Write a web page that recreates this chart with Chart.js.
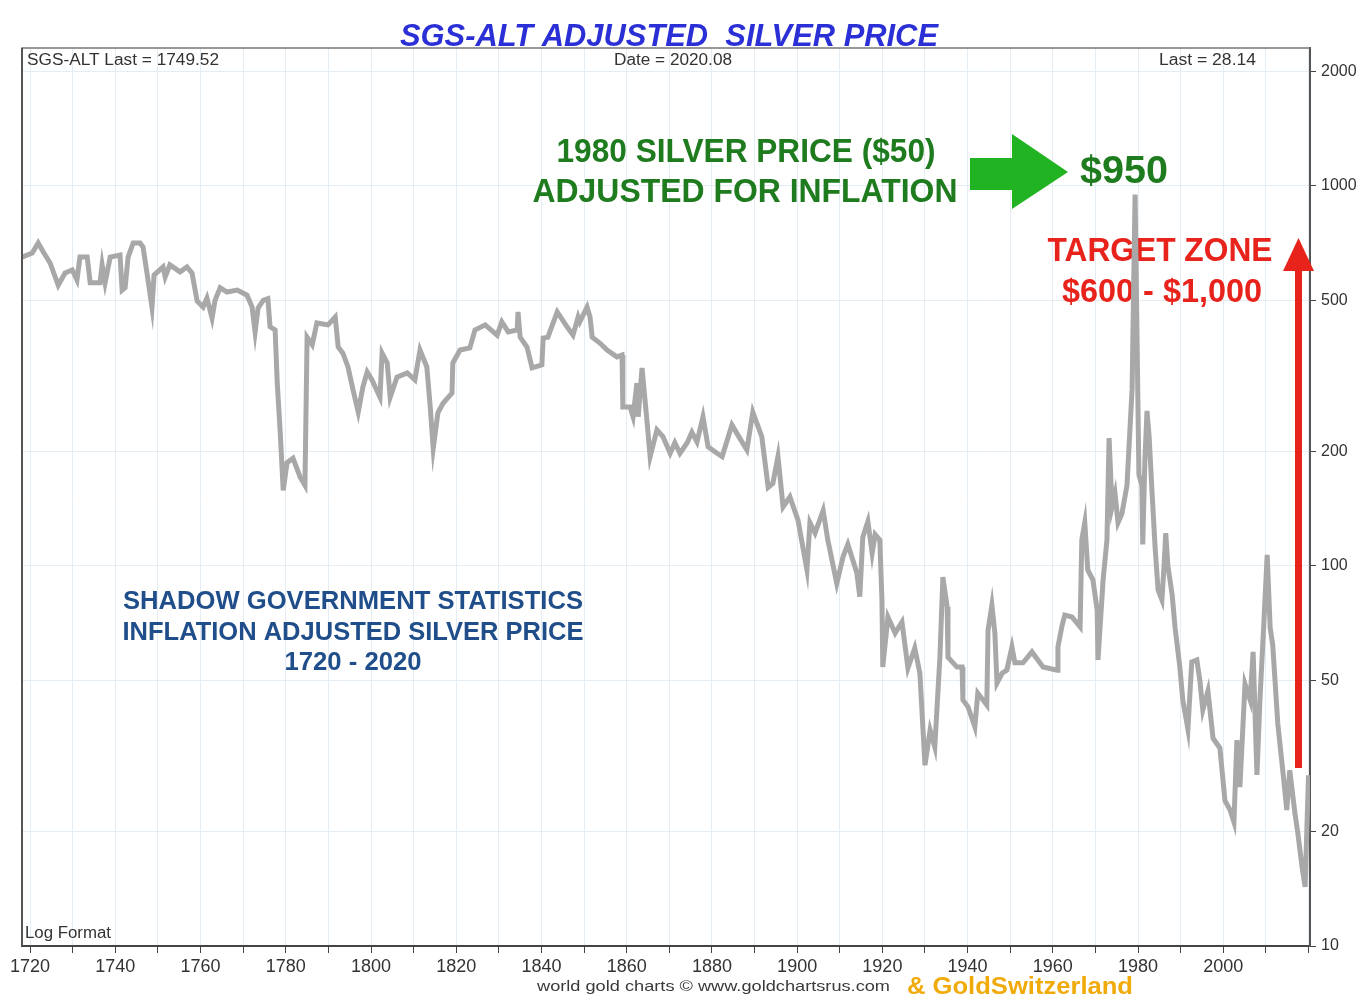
<!DOCTYPE html>
<html>
<head>
<meta charset="utf-8">
<script src="https://cdn.jsdelivr.net/npm/chart.js@4.4.1/dist/chart.umd.min.js"></script>
<style>
  html, body { margin: 0; padding: 0; background: #fff; }
  canvas { display: block; }
</style>
</head>
<body>
<canvas id="silverChart" width="1363" height="998"></canvas>
<script>
// inflation adjusted silver price (SGS-ALT)
const years = [
  1718.1,1720.5,1721.9,1723.1,1724.7,1726.6,1728.2,1729.9,1731.0,1731.7,
  1733.4,1734.1,1736.4,1736.9,1737.6,1738.8,1741.1,1741.6,1742.3,1743.0,
  1744.2,1745.8,1746.5,1747.5,1748.6,1749.1,1751.2,1751.7,1752.8,1755.2,
  1756.8,1758.0,1759.2,1760.6,1761.5,1762.7,1763.4,1764.6,1766.2,1768.6,
  1770.9,1772.1,1772.8,1773.5,1774.7,1775.8,1776.3,1777.5,1778.0,1778.7,
  1779.4,1780.3,1781.7,1783.4,1784.5,1785.0,1786.2,1787.3,1789.9,1791.6,
  1792.3,1793.4,1794.6,1795.8,1797.0,1798.1,1799.1,1800.2,1802.1,1802.6,
  1803.8,1804.5,1806.1,1808.5,1810.3,1811.5,1813.1,1813.9,1814.6,1815.7,
  1816.9,1819.0,1819.2,1820.9,1823.2,1824.4,1826.8,1829.6,1830.7,1832.2,
  1834.3,1834.5,1835.0,1836.6,1837.8,1840.1,1840.4,1841.5,1843.7,1846.0,
  1847.4,1848.6,1849.0,1850.7,1851.4,1851.9,1853.7,1855.4,1857.7,1858.9,
  1859.1,1860.8,1861.5,1862.4,1862.7,1863.6,1864.8,1865.5,1867.1,1868.5,
  1870.2,1871.3,1872.5,1874.2,1875.3,1876.5,1877.9,1879.1,1881.2,1882.4,
  1884.7,1886.1,1888.2,1889.6,1891.7,1893.2,1894.3,1895.5,1896.7,1898.3,
  1900.2,1902.3,1903.0,1904.2,1906.1,1907.2,1909.3,1910.8,1911.9,1914.0,
  1914.7,1915.4,1916.6,1917.6,1918.3,1919.4,1919.9,1920.1,1921.3,1923.0,
  1924.6,1926.0,1927.6,1928.8,1929.5,1930.0,1931.2,1932.3,1933.5,1934.2,
  1935.2,1935.4,1937.5,1938.7,1938.9,1940.1,1941.7,1942.4,1944.5,1944.8,
  1945.7,1946.4,1946.9,1948.1,1949.2,1950.4,1951.1,1953.0,1955.1,1957.7,
  1961.0,1961.2,1962.1,1962.8,1964.5,1966.4,1966.8,1967.5,1968.2,1969.4,
  1970.4,1970.6,1971.8,1972.7,1973.2,1973.9,1974.6,1975.3,1976.2,1977.4,
  1978.6,1979.3,1979.7,1980.2,1980.9,1981.1,1981.6,1982.1,1982.6,1983.3,
  1984.0,1984.7,1985.6,1986.1,1986.5,1987.0,1988.0,1988.7,1989.8,1990.5,
  1991.7,1992.6,1993.8,1994.5,1995.2,1996.4,1997.6,1999.2,2000.4,2001.6,
  2002.5,2003.2,2003.9,2005.1,2006.3,2007.0,2007.9,2008.6,2009.5,2010.3,
  2011.0,2011.6,2012.8,2014.0,2014.9,2015.6,2016.8,2017.5,2018.5,2019.2,2020.0
];
const prices = [
  650,666,708,670,627,548,590,601,566,650,
  650,556,556,620,556,650,658,532,540,650,
  708,708,691,583,480,583,612,576,620,594,
  612,590,498,480,507,449,500,540,526,532,
  516,480,413,477,500,505,426,418,303,224,
  158,187,192,171,163,400,382,436,431,452,
  377,363,334,290,254,296,324,309,278,363,
  342,278,314,322,309,370,334,262,204,253,
  268,285,342,370,375,418,431,405,439,413,
  418,466,400,377,332,338,398,400,466,426,
  405,452,439,480,452,400,386,370,355,359,
  262,262,247,303,247,332,238,194,228,219,
  198,211,198,211,225,212,247,206,198,194,
  235,221,202,254,219,161,165,194,143,152,
  132,97.6,130,122,140,117,90,106,114,96,
  83,119,131,108,121,117,81.4,54.2,73.4,66.6,
  71.2,53.9,60.8,52.2,37.7,29.9,37,33.4,57.5,93.5,
  78,57.5,54.2,54.2,44.4,42.6,37.7,46.3,43.1,67.8,
  78.9,66.6,49.2,52.2,53.2,61.2,55.6,55.6,59.4,54.2,
  53.2,61.2,69.1,74.3,73.4,69.1,117,130,97.6,92,
  76.6,56.6,92,117,217,143,155,130,137,163,
  292,950,452,174,163,114,189,256,219,155,
  112,86.5,81.4,100,122,100,84,68.7,54.2,44.4,
  37.2,55.9,56.6,50,41.8,46.9,35.2,33.2,24.1,22.8,
  21.2,34.8,26.2,48.9,44.4,59.4,28.2,44.4,70,107,
  68.7,62,38.4,28.7,22.8,29,22.4,19.8,16.1,14.3,28.14
];
const xTickYears = [1720,1730,1740,1750,1760,1770,1780,1790,1800,1810,1820,1830,1840,1850,1860,1870,1880,1890,1900,1910,1920,1930,1940,1950,1960,1970,1980,1990,2000,2010,2020];
const xLabelYears = [1720,1740,1760,1780,1800,1820,1840,1860,1880,1900,1920,1940,1960,1980,2000];
const yTicks = [10,20,50,100,200,500,1000,2000];

// draw text squeezed/stretched to a given width
function txt(ctx, s, x, y, w, font, color, align) {
  ctx.save();
  ctx.font = font;
  ctx.fillStyle = color;
  ctx.textBaseline = 'middle';
  ctx.textAlign = align || 'center';
  const m = ctx.measureText(s).width;
  const k = w ? w / m : 1;
  ctx.translate(x, y);
  ctx.scale(k, 1);
  ctx.fillText(s, 0, 0);
  ctx.restore();
}

const FONT = '"Liberation Sans", Arial, sans-serif';
const NARROW = '"Liberation Sans Narrow", "Liberation Sans", sans-serif';

const decor = {
  id: 'decor',
  beforeDraw(chart) {
    const ctx = chart.ctx;
    ctx.save();
    ctx.fillStyle = '#fff';
    ctx.fillRect(0, 0, chart.width, chart.height);
    ctx.restore();
  },
  beforeDatasetsDraw(chart) {
    const ctx = chart.ctx;
    txt(ctx, 'SGS-ALT Last = 1749.52', 27, 61, 192, '16px ' + FONT, '#333', 'left');
    txt(ctx, 'Date = 2020.08', 673, 61, 118, '16px ' + FONT, '#333', 'center');
    txt(ctx, 'Last = 28.14', 1256, 61, 97, '16px ' + FONT, '#333', 'right');
    txt(ctx, 'Log Format', 25, 934, 86, '16px ' + FONT, '#333', 'left');

    txt(ctx, '1980 SILVER PRICE ($50)', 746, 153, 379, 'bold 33px ' + FONT, '#1e7b1e');
    txt(ctx, 'ADJUSTED FOR INFLATION', 745, 193, 425, 'bold 33px ' + FONT, '#1e7b1e');
    txt(ctx, '$950', 1124, 173, 88, 'bold 38px ' + FONT, '#1e7b1e');

    txt(ctx, 'TARGET ZONE', 1160, 252, 225, 'bold 34px ' + FONT, '#e8231c');
    txt(ctx, '$600 - $1,000', 1162, 293, 200, 'bold 34px ' + FONT, '#e8231c');

    txt(ctx, 'SHADOW GOVERNMENT STATISTICS', 353, 602, 460, 'bold 25px ' + FONT, '#1f4e8a');
    txt(ctx, 'INFLATION ADJUSTED SILVER PRICE', 353, 633, 461, 'bold 25px ' + FONT, '#1f4e8a');
    txt(ctx, '1720 - 2020', 353, 663, 137, 'bold 25px ' + FONT, '#1f4e8a');
  },
  afterDraw(chart) {
    const ctx = chart.ctx;
    const a = chart.chartArea;
    ctx.save();
    // frame
    ctx.strokeStyle = '#777';
    ctx.lineWidth = 1.5;
    ctx.beginPath();
    ctx.moveTo(a.left, a.bottom);
    ctx.lineTo(a.left, a.top);
    ctx.lineTo(a.right, a.top);
    ctx.stroke();
    ctx.strokeStyle = '#555';
    ctx.lineWidth = 2;
    ctx.beginPath();
    ctx.moveTo(a.left, a.top);
    ctx.lineTo(a.left, a.bottom);
    ctx.stroke();

    // green arrow
    ctx.fillStyle = '#22b322';
    ctx.beginPath();
    ctx.moveTo(970, 158);
    ctx.lineTo(1012, 158);
    ctx.lineTo(1012, 134);
    ctx.lineTo(1068, 172);
    ctx.lineTo(1012, 209);
    ctx.lineTo(1012, 190);
    ctx.lineTo(970, 190);
    ctx.closePath();
    ctx.fill();

    // red arrow
    ctx.fillStyle = '#e8231c';
    ctx.fillRect(1295, 266, 7, 502);
    ctx.beginPath();
    ctx.moveTo(1298.5, 238);
    ctx.lineTo(1314, 271);
    ctx.lineTo(1283, 271);
    ctx.closePath();
    ctx.fill();
    ctx.restore();

    txt(ctx, 'SGS-ALT ADJUSTED  SILVER PRICE', 669, 37, 538, 'italic bold 31px ' + FONT, '#2b2fd6');
    txt(ctx, 'world gold charts \u00a9 www.goldchartsrus.com', 537, 987, 353, '15px ' + FONT, '#3a3a3a', 'left');
    txt(ctx, '& GoldSwitzerland', 907, 988, 226, 'bold 23px ' + FONT, '#f0aa0a', 'left');
  }
};

const ctx = document.getElementById('silverChart').getContext('2d');
new Chart(ctx, {
  type: 'line',
  data: {
    datasets: [{
      data: years.map((yr, i) => ({ x: yr, y: prices[i] })),
      borderColor: '#a8a8a8',
      borderWidth: 5,
      pointRadius: 0,
      fill: false,
      tension: 0
    }]
  },
  options: {
    responsive: false,
    animation: false,
    devicePixelRatio: 1,
    layout: { padding: { left: 22, top: 48, right: 0, bottom: 0 } },
    plugins: { legend: { display: false }, tooltip: { enabled: false } },
    scales: {
      x: {
        type: 'linear',
        min: 1718.1,
        max: 2020.35,
        afterBuildTicks: s => { s.ticks = xTickYears.map(v => ({ value: v })); },
        afterFit: s => { s.height = 52; },
        ticks: {
          autoSkip: false,
          maxRotation: 0,
          color: '#333',
          padding: 3,
          font: { family: NARROW, size: 18 },
          callback: v => xLabelYears.includes(v) ? String(v) : ''
        },
        grid: { color: '#e4edf4', tickColor: '#444', tickLength: 7 },
        border: { color: '#444', width: 2 }
      },
      y: {
        type: 'logarithmic',
        position: 'right',
        min: 10,
        max: 2307,
        afterBuildTicks: s => { s.ticks = yTicks.map(v => ({ value: v })); },
        afterFit: s => { s.width = 53; },
        ticks: {
          autoSkip: false,
          color: '#333',
          padding: 5,
          font: { family: NARROW, size: 16 },
          callback: v => String(v)
        },
        grid: { color: '#e4edf4', tickColor: '#444', tickLength: 6 },
        border: { color: '#555', width: 2 }
      }
    }
  },
  plugins: [decor]
});
</script>
</body>
</html>
